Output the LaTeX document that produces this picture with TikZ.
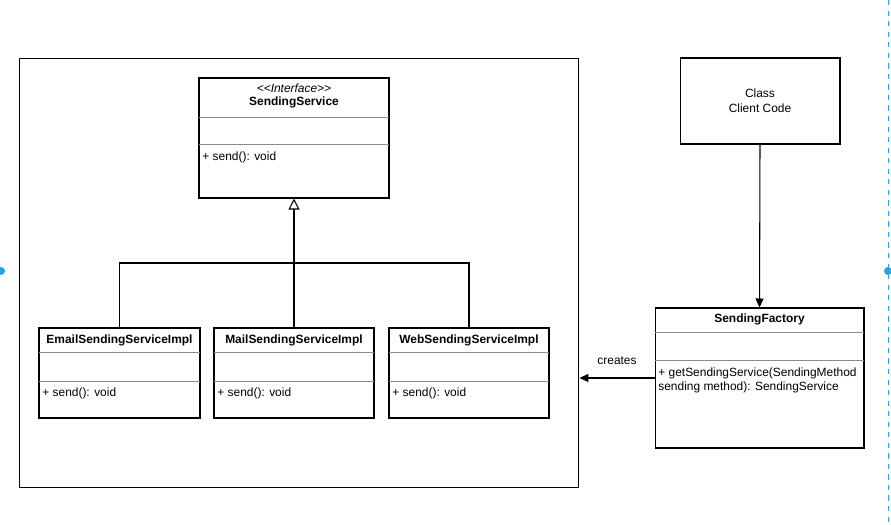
\documentclass[tikz,border=0pt]{standalone}
\usepackage{fontspec}
\setmainfont{Liberation Sans}
\usetikzlibrary{arrows.meta}
\tikzset{
  umlbox/.style={draw, rectangle, line width=0.6pt, inner sep=0pt},
  umltitle/.style={font=\fontsize{6.8}{8}\selectfont\bfseries},
  umltext/.style={anchor=west, inner sep=0pt, align=left},
  umlsep/.style={draw=black!45, line width=0.5pt},
  link/.style={line width=0.6pt},
}
\begin{document}
\begin{tikzpicture}[x=0.02cm, y=-0.02cm, font=\fontsize{6.8}{8.4}\selectfont]
\useasboundingbox (0,0) rectangle (891,524);
% selection guides
\draw[color={rgb,255:red,41;green,163;blue,232}, dashed, line width=0.4pt] (888,0) -- (888,524);
\fill[color={rgb,255:red,41;green,163;blue,232}] (888,271) circle (4);
\fill[color={rgb,255:red,41;green,163;blue,232}] (1,271) circle (4);
% package frame
\node[umlbox, minimum width=11.2cm, minimum height=8.6cm] (pkg) at (299,273) {};
% interface
\node[umlbox, minimum width=3.8cm, minimum height=2.4cm] (iface) at (294,138) {};
\node[font=\fontsize{6.8}{8}\selectfont\itshape] (ifacetype) at (294,88) {<\kern0pt<Interface>\kern0pt>};
\node[umltitle] (ifacename) at (294,102) {SendingService};
\draw[umlsep] (199,117) -- (389,117);
\draw[umlsep] (199,144) -- (389,144);
\node[umltext] (ifacesend) at (202,157) {+ send(): void};
% implementations
\node[umlbox, minimum width=3.22cm, minimum height=1.8cm] (email) at (119.5,373) {};
\node[umltitle] (emailname) at (119.5,340) {EmailSendingServiceImpl};
\draw[umlsep] (39,352) -- (200,352);
\draw[umlsep] (39,381) -- (200,381);
\node[umltext] (emailsend) at (42,393) {+ send(): void};

\node[umlbox, minimum width=3.2cm, minimum height=1.8cm] (mail) at (294,373) {};
\node[umltitle] (mailname) at (294,340) {MailSendingServiceImpl};
\draw[umlsep] (214,352) -- (374,352);
\draw[umlsep] (214,381) -- (374,381);
\node[umltext] (mailsend) at (217,393) {+ send(): void};

\node[umlbox, minimum width=3.2cm, minimum height=1.8cm] (web) at (469,373) {};
\node[umltitle] (webname) at (469,340) {WebSendingServiceImpl};
\draw[umlsep] (389,352) -- (549,352);
\draw[umlsep] (389,381) -- (549,381);
\node[umltext] (websend) at (392,393) {+ send(): void};
% inheritance
\coordinate (bus) at (294,263);
\draw[link] (email.north) |- (bus) -| (web.north);
\draw[link, -{Triangle[open, width=0.22cm, length=0.22cm]}] (mail.north) -- (iface.south);
% client
\node[umlbox, minimum width=3.2cm, minimum height=1.72cm, align=center] (client) at (760,101) {Class\\Client Code};
% factory
\node[umlbox, minimum width=4.18cm, minimum height=2.8cm] (factory) at (759.5,378) {};
\node[umltitle] (factoryname) at (759.5,319) {SendingFactory};
\draw[umlsep] (655,332) -- (864,332);
\draw[umlsep] (655,360) -- (864,360);
\node[umltext] (factoryget) at (658,380.5) {+ getSendingService(SendingMethod\\sending method): SendingService};
% associations
\draw[link, -{Triangle[width=0.16cm, length=0.18cm]}] (client.south) -- (factory.north);
\draw[link, -{Triangle[width=0.16cm, length=0.18cm]}] (factory.west) -- (factory.west -| pkg.east)
  node[midway, above=0.26cm, inner sep=0pt] (creates) {creates};
\end{tikzpicture}
\end{document}
